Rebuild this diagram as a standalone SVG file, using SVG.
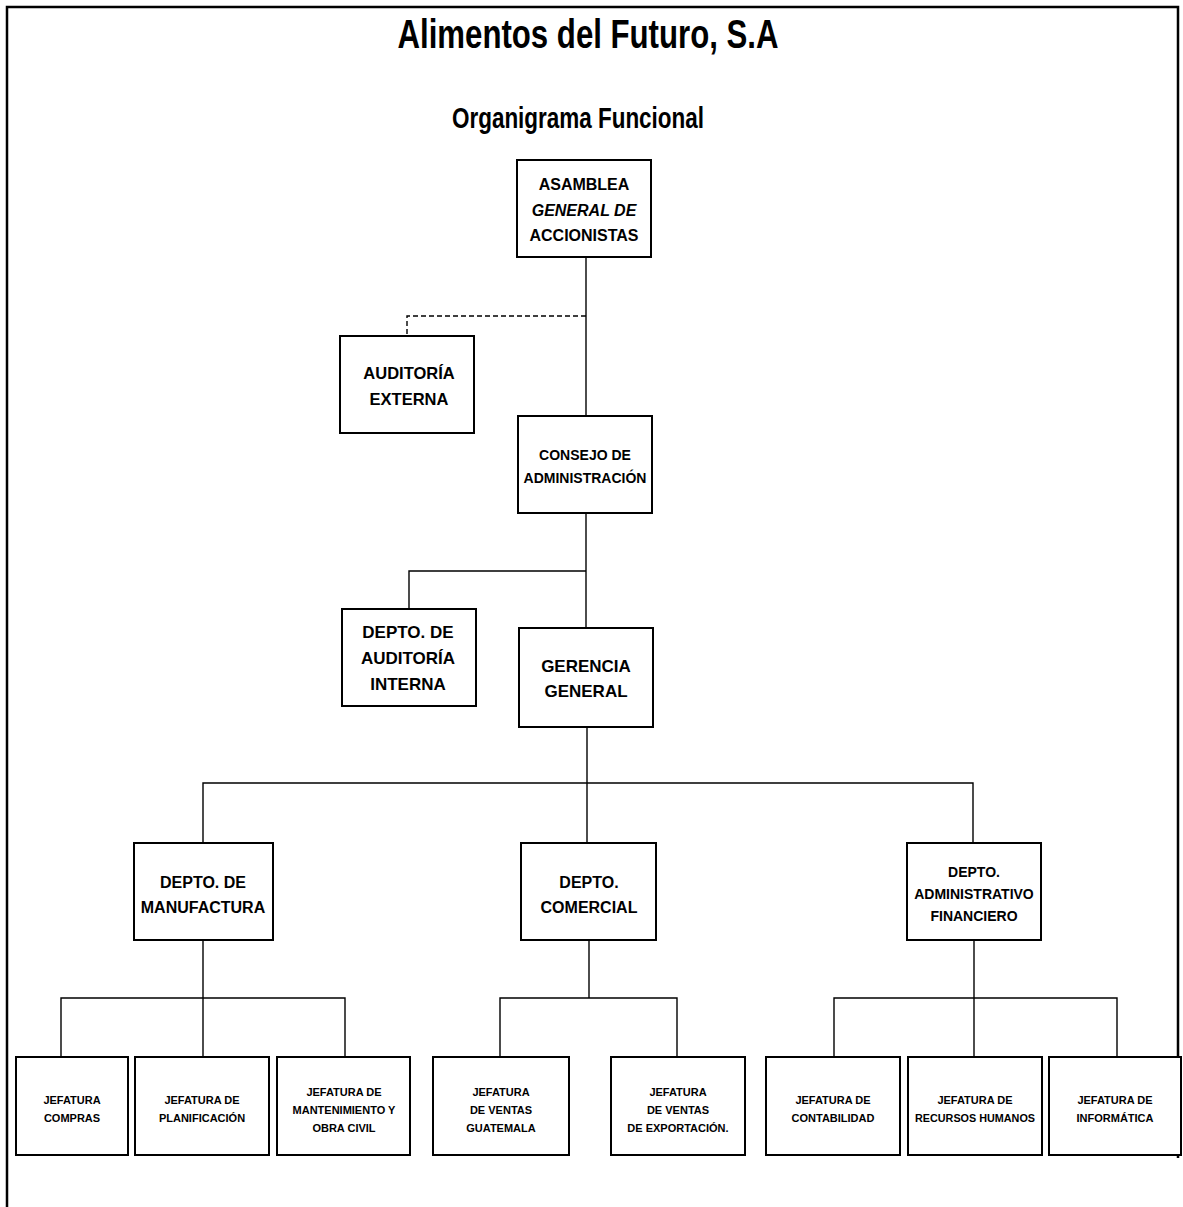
<svg xmlns="http://www.w3.org/2000/svg" width="1183" height="1207" viewBox="0 0 1183 1207">
<style>
text{font-family:"Liberation Sans",Arial,sans-serif;font-weight:bold;fill:#000;text-anchor:middle}
.box{fill:#fff;stroke:#000;stroke-width:2}
.ln{fill:none;stroke:#000;stroke-width:1.4}
.dash{fill:none;stroke:#000;stroke-width:1.4;stroke-dasharray:5 3}
.f16{font-size:16px}.f165{font-size:16.5px}.f17{font-size:17px}.f14{font-size:14px}.f11{font-size:11px}
</style>
<rect width="1183" height="1207" fill="#fff"/>
<g id="frame">
<path d="M7 1207 V7 H1178 V1158" fill="none" stroke="#000" stroke-width="2.5"/>
</g>
<g id="titles">
<text x="588" y="48" font-size="41" textLength="381" lengthAdjust="spacingAndGlyphs">Alimentos del Futuro, S.A</text>
<text x="578" y="128" font-size="29" textLength="252" lengthAdjust="spacingAndGlyphs">Organigrama Funcional</text>
</g>
<g id="connectors">
<path class="ln" d="M586 257 V416"/>
<path class="dash" d="M586 316 H407 V336"/>
<path class="ln" d="M586 513 V628"/>
<path class="ln" d="M586 571 H409 V609"/>
<path class="ln" d="M587 727 V843"/>
<path class="ln" d="M203 843 V783 H973 V843"/>
<path class="ln" d="M203 940 V1057"/>
<path class="ln" d="M61 1057 V998 H345 V1057"/>
<path class="ln" d="M589 940 V998"/>
<path class="ln" d="M500 1057 V998 H677 V1057"/>
<path class="ln" d="M974 940 V1057"/>
<path class="ln" d="M834 1057 V998 H1117 V1057"/>
</g>
<g id="asamblea">
<rect class="box" x="517" y="160" width="134" height="97"/>
<text class="f16" x="584" y="190">ASAMBLEA</text>
<text class="f16" x="584" y="216" font-style="italic">GENERAL DE</text>
<text class="f16" x="584" y="241">ACCIONISTAS</text>
</g>
<g id="auditoria-externa">
<rect class="box" x="340" y="336" width="134" height="97"/>
<text class="f165" x="409" y="379">AUDITORÍA</text>
<text class="f165" x="409" y="405">EXTERNA</text>
</g>
<g id="consejo">
<rect class="box" x="518" y="416" width="134" height="97"/>
<text class="f14" x="585" y="460">CONSEJO DE</text>
<text class="f14" x="585" y="483">ADMINISTRACIÓN</text>
</g>
<g id="auditoria-interna">
<rect class="box" x="342" y="609" width="134" height="97"/>
<text class="f17" x="408" y="638">DEPTO. DE</text>
<text class="f17" x="408" y="664">AUDITORÍA</text>
<text class="f17" x="408" y="690">INTERNA</text>
</g>
<g id="gerencia">
<rect class="box" x="519" y="628" width="134" height="99"/>
<text class="f17" x="586" y="672">GERENCIA</text>
<text class="f17" x="586" y="697">GENERAL</text>
</g>
<g id="manufactura">
<rect class="box" x="134" y="843" width="139" height="97"/>
<text class="f16" x="203" y="888">DEPTO. DE</text>
<text class="f16" x="203" y="913">MANUFACTURA</text>
</g>
<g id="comercial">
<rect class="box" x="521" y="843" width="135" height="97"/>
<text class="f16" x="589" y="888">DEPTO.</text>
<text class="f16" x="589" y="913">COMERCIAL</text>
</g>
<g id="administrativo">
<rect class="box" x="907" y="843" width="134" height="97"/>
<text class="f14" x="974" y="877">DEPTO.</text>
<text class="f14" x="974" y="899">ADMINISTRATIVO</text>
<text class="f14" x="974" y="921">FINANCIERO</text>
</g>
<g id="compras">
<rect class="box" x="16" y="1057" width="112" height="98"/>
<text class="f11" x="72" y="1104">JEFATURA</text>
<text class="f11" x="72" y="1122">COMPRAS</text>
</g>
<g id="planificacion">
<rect class="box" x="135" y="1057" width="134" height="98"/>
<text class="f11" x="202" y="1104">JEFATURA DE</text>
<text class="f11" x="202" y="1122">PLANIFICACIÓN</text>
</g>
<g id="mantenimiento">
<rect class="box" x="277" y="1057" width="133" height="98"/>
<text class="f11" x="344" y="1096">JEFATURA DE</text>
<text class="f11" x="344" y="1114">MANTENIMIENTO Y</text>
<text class="f11" x="344" y="1132">OBRA CIVIL</text>
</g>
<g id="guatemala">
<rect class="box" x="433" y="1057" width="136" height="98"/>
<text class="f11" x="501" y="1096">JEFATURA</text>
<text class="f11" x="501" y="1114">DE VENTAS</text>
<text class="f11" x="501" y="1132">GUATEMALA</text>
</g>
<g id="exportacion">
<rect class="box" x="611" y="1057" width="134" height="98"/>
<text class="f11" x="678" y="1096">JEFATURA</text>
<text class="f11" x="678" y="1114">DE VENTAS</text>
<text class="f11" x="678" y="1132">DE EXPORTACIÓN.</text>
</g>
<g id="contabilidad">
<rect class="box" x="766" y="1057" width="134" height="98"/>
<text class="f11" x="833" y="1104">JEFATURA DE</text>
<text class="f11" x="833" y="1122">CONTABILIDAD</text>
</g>
<g id="rrhh">
<rect class="box" x="908" y="1057" width="134" height="98"/>
<text class="f11" x="975" y="1104">JEFATURA DE</text>
<text class="f11" x="975" y="1122" textLength="120" lengthAdjust="spacingAndGlyphs">RECURSOS HUMANOS</text>
</g>
<g id="informatica">
<rect class="box" x="1049" y="1057" width="132" height="98"/>
<text class="f11" x="1115" y="1104">JEFATURA DE</text>
<text class="f11" x="1115" y="1122">INFORMÁTICA</text>
</g>
</svg>
